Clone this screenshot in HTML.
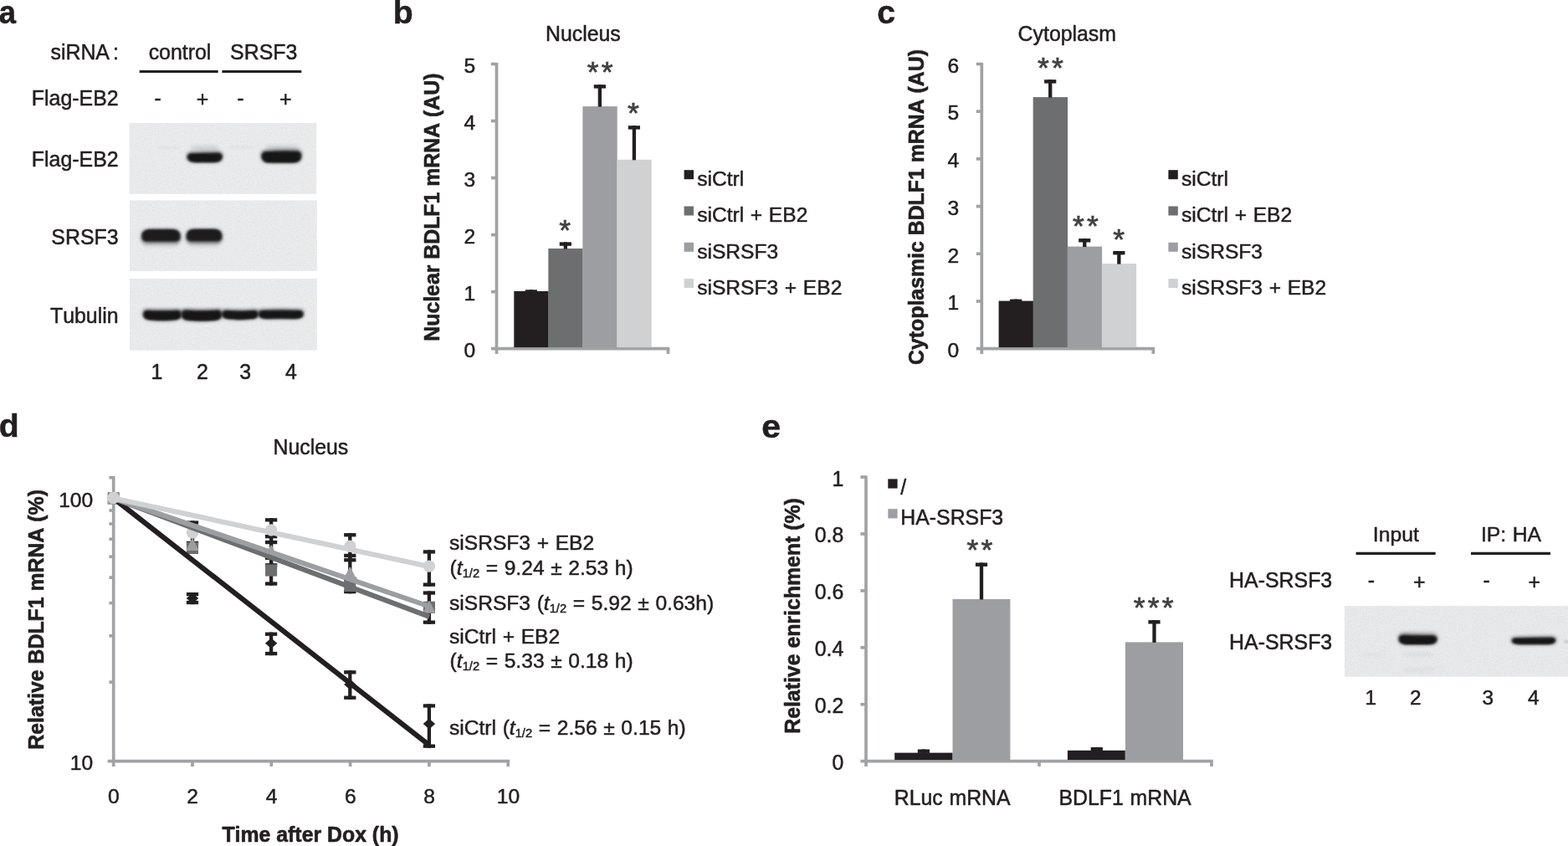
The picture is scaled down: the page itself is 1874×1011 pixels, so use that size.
<!DOCTYPE html>
<html lang="en">
<head>
<meta charset="utf-8">
<title>SRSF3 and EB2 regulate BDLF1 mRNA</title>
<style>
html,body{margin:0;padding:0;background:#fff;}
body{width:1874px;height:1011px;overflow:hidden;}
svg{display:block;font-family:"Liberation Sans",sans-serif;}
text{stroke:#231f20;stroke-width:0.5px;stroke-linejoin:round;word-spacing:0.8px;font-kerning:none;}
text.bl{stroke-width:0.6px;word-spacing:0;}
text.st{stroke:#414042;stroke-width:0.7px;stroke-linejoin:miter;}
</style>
</head>
<body>
<svg width="1874" height="1011" viewBox="0 0 1874 1011">
<defs>
<filter id="b1_4" x="-20%" y="-60%" width="140%" height="220%"><feGaussianBlur stdDeviation="1.4"/></filter>
<filter id="b1_6" x="-20%" y="-60%" width="140%" height="220%"><feGaussianBlur stdDeviation="1.6"/></filter>
<filter id="b2_0" x="-20%" y="-60%" width="140%" height="220%"><feGaussianBlur stdDeviation="2.0"/></filter>
<filter id="b1_8" x="-20%" y="-60%" width="140%" height="220%"><feGaussianBlur stdDeviation="1.8"/></filter>
<filter id="grain" x="0" y="0" width="100%" height="100%">
<feTurbulence type="fractalNoise" baseFrequency="0.55" numOctaves="2" seed="7" result="n"/>
<feColorMatrix in="n" type="matrix" values="0 0 0 0 0  0 0 0 0 0  0 0 0 0 0  0.09 0.09 0.09 0 -0.11" result="a"/>
<feComposite in="a" in2="SourceGraphic" operator="in" result="g"/>
<feMerge><feMergeNode in="SourceGraphic"/><feMergeNode in="g"/></feMerge>
</filter>
</defs>
<rect width="1874" height="1011" fill="#ffffff"/>
<text transform="translate(-1.2 28.0) scale(0.93 1)" font-size="39.2" font-weight="bold" fill="#231f20">a</text>
<text x="469.80" y="28.00" font-size="39.2" text-anchor="start" font-weight="bold" fill="#231f20">b</text>
<text x="1048.30" y="28.00" font-size="39.2" text-anchor="start" font-weight="bold" fill="#231f20">c</text>
<text x="-1.20" y="522.20" font-size="39.2" text-anchor="start" font-weight="bold" fill="#231f20">d</text>
<text transform="translate(910.2 522.6) scale(1.05 1)" font-size="39.2" font-weight="bold" fill="#231f20">e</text>
<g id="panel-a">
<text x="141.90" y="70.50" font-size="24.9" text-anchor="end" font-weight="normal" fill="#231f20">siRNA<tspan dx="4">:</tspan></text>
<text x="215.00" y="70.50" font-size="24.9" text-anchor="middle" font-weight="normal" fill="#231f20">control</text>
<text x="315.20" y="70.50" font-size="24.9" text-anchor="middle" font-weight="normal" fill="#231f20">SRSF3</text>
<line x1="166.70" y1="85.50" x2="260.70" y2="85.50" stroke="#231f20" stroke-width="3"/>
<line x1="265.40" y1="85.50" x2="360.30" y2="85.50" stroke="#231f20" stroke-width="3"/>
<text x="141.60" y="126.00" font-size="24.9" text-anchor="end" font-weight="normal" fill="#231f20">Flag-EB2</text>
<text x="188.70" y="126.00" font-size="24.9" text-anchor="middle" font-weight="normal" fill="#231f20">-</text>
<text x="242.00" y="127.40" font-size="24.9" text-anchor="middle" font-weight="normal" fill="#231f20">+</text>
<text x="287.40" y="126.00" font-size="24.9" text-anchor="middle" font-weight="normal" fill="#231f20">-</text>
<text x="341.30" y="127.40" font-size="24.9" text-anchor="middle" font-weight="normal" fill="#231f20">+</text>
<text x="141.60" y="198.70" font-size="24.9" text-anchor="end" font-weight="normal" fill="#231f20">Flag-EB2</text>
<text x="141.60" y="292.30" font-size="24.9" text-anchor="end" font-weight="normal" fill="#231f20">SRSF3</text>
<text x="141.60" y="385.90" font-size="24.9" text-anchor="end" font-weight="normal" fill="#231f20">Tubulin</text>
<rect x="154.60" y="147.00" width="223.60" height="84.80" fill="#ebecee" filter="url(#grain)"/>
<rect x="155.00" y="239.50" width="223.80" height="84.40" fill="#ebecee" filter="url(#grain)"/>
<rect x="155.00" y="333.00" width="223.80" height="85.60" fill="#ebecee" filter="url(#grain)"/>
<rect x="228.50" y="174.60" width="32.00" height="4.90" rx="3" fill="#303030" opacity="0.16" filter="url(#b2_0)"/>
<rect x="318.00" y="173.50" width="38.00" height="5.00" rx="3" fill="#303030" opacity="0.14" filter="url(#b2_0)"/>
<rect x="187.00" y="175.20" width="29.00" height="2.20" rx="3" fill="#303030" opacity="0.06" filter="url(#b1_4)"/>
<rect x="273.00" y="174.60" width="30.00" height="2.20" rx="3" fill="#303030" opacity="0.06" filter="url(#b1_4)"/>
<path d="M223.60 186.94 Q223.60 182.30 228.60 182.30 Q244.75 181.50 260.90 181.50 Q265.90 181.50 265.90 186.62 Q265.90 193.70 255.90 193.70 Q244.75 193.70 233.60 193.70 Q223.60 193.70 223.60 186.94Z" fill="#343434" opacity="1" filter="url(#b2_0)"/>
<path d="M223.60 186.94 Q223.60 182.30 228.60 182.30 Q244.75 181.50 260.90 181.50 Q265.90 181.50 265.90 186.62 Q265.90 193.70 255.90 193.70 Q244.75 193.70 233.60 193.70 Q223.60 193.70 223.60 186.94Z" fill="#141414" opacity="1" transform="translate(244.75 193.70) scale(0.97 0.84) translate(-244.75 -193.70)" filter="url(#b1_4)"/>
<path d="M312.30 185.84 Q312.30 179.90 317.30 179.90 Q336.35 178.30 355.40 179.30 Q360.40 179.30 360.40 185.60 Q360.40 194.30 350.40 194.30 Q336.35 194.30 322.30 194.30 Q312.30 194.30 312.30 185.84Z" fill="#343434" opacity="1" filter="url(#b2_0)"/>
<path d="M312.30 185.84 Q312.30 179.90 317.30 179.90 Q336.35 178.30 355.40 179.30 Q360.40 179.30 360.40 185.60 Q360.40 194.30 350.40 194.30 Q336.35 194.30 322.30 194.30 Q312.30 194.30 312.30 185.84Z" fill="#141414" opacity="1" transform="translate(336.35 194.30) scale(0.97 0.84) translate(-336.35 -194.30)" filter="url(#b1_4)"/>
<rect x="172.00" y="288.00" width="41.00" height="7.00" rx="3" fill="#303030" opacity="0.13" filter="url(#b2_0)"/>
<rect x="226.00" y="288.00" width="36.00" height="7.00" rx="3" fill="#303030" opacity="0.13" filter="url(#b2_0)"/>
<g transform="translate(0 564.40) scale(1 -1)">
<path d="M169.10 280.94 Q169.10 274.30 174.10 274.30 Q192.40 274.30 210.70 274.30 Q215.70 274.30 215.70 280.94 Q215.70 290.10 205.70 290.10 Q192.40 290.10 179.10 290.10 Q169.10 290.10 169.10 280.94Z" fill="#3a3a3a" opacity="1" filter="url(#b2_0)"/>
<path d="M169.10 280.94 Q169.10 274.30 174.10 274.30 Q192.40 274.30 210.70 274.30 Q215.70 274.30 215.70 280.94 Q215.70 290.10 205.70 290.10 Q192.40 290.10 179.10 290.10 Q169.10 290.10 169.10 280.94Z" fill="#1b1b1b" opacity="1" transform="translate(192.40 290.10) scale(0.97 0.84) translate(-192.40 -290.10)" filter="url(#b1_4)"/>
</g>
<g transform="translate(0 563.80) scale(1 -1)">
<path d="M222.50 280.62 Q222.50 273.90 227.50 273.90 Q244.00 273.90 260.50 273.90 Q265.50 273.90 265.50 280.62 Q265.50 289.90 255.50 289.90 Q244.00 289.90 232.50 289.90 Q222.50 289.90 222.50 280.62Z" fill="#3a3a3a" opacity="1" filter="url(#b2_0)"/>
<path d="M222.50 280.62 Q222.50 273.90 227.50 273.90 Q244.00 273.90 260.50 273.90 Q265.50 273.90 265.50 280.62 Q265.50 289.90 255.50 289.90 Q244.00 289.90 232.50 289.90 Q222.50 289.90 222.50 280.62Z" fill="#1b1b1b" opacity="1" transform="translate(244.00 289.90) scale(0.97 0.84) translate(-244.00 -289.90)" filter="url(#b1_4)"/>
</g>
<path d="M170.90 374.99 Q170.90 369.70 175.90 369.70 Q194.00 370.90 212.10 369.70 Q217.10 369.70 217.10 374.99 Q217.10 382.30 207.10 382.30 Q194.00 383.50 180.90 382.30 Q170.90 382.30 170.90 374.99Z" fill="#343434" opacity="1" filter="url(#b2_0)"/>
<path d="M170.90 374.99 Q170.90 369.70 175.90 369.70 Q194.00 370.90 212.10 369.70 Q217.10 369.70 217.10 374.99 Q217.10 382.30 207.10 382.30 Q194.00 383.50 180.90 382.30 Q170.90 382.30 170.90 374.99Z" fill="#141414" opacity="1" transform="translate(194.00 382.30) scale(0.97 0.84) translate(-194.00 -382.30)" filter="url(#b1_4)"/>
<path d="M216.50 375.04 Q216.50 369.50 221.50 369.50 Q241.00 371.10 260.50 369.50 Q265.50 369.50 265.50 375.04 Q265.50 382.70 255.50 382.70 Q241.00 384.30 226.50 382.70 Q216.50 382.70 216.50 375.04Z" fill="#343434" opacity="1" filter="url(#b2_0)"/>
<path d="M216.50 375.04 Q216.50 369.50 221.50 369.50 Q241.00 371.10 260.50 369.50 Q265.50 369.50 265.50 375.04 Q265.50 382.70 255.50 382.70 Q241.00 384.30 226.50 382.70 Q216.50 382.70 216.50 375.04Z" fill="#141414" opacity="1" transform="translate(241.00 382.70) scale(0.97 0.84) translate(-241.00 -382.70)" filter="url(#b1_4)"/>
<path d="M265.00 374.72 Q265.00 370.10 270.00 370.10 Q287.05 371.50 304.10 370.10 Q309.10 370.10 309.10 374.72 Q309.10 381.10 299.10 381.10 Q287.05 382.50 275.00 381.10 Q265.00 381.10 265.00 374.72Z" fill="#343434" opacity="1" filter="url(#b2_0)"/>
<path d="M265.00 374.72 Q265.00 370.10 270.00 370.10 Q287.05 371.50 304.10 370.10 Q309.10 370.10 309.10 374.72 Q309.10 381.10 299.10 381.10 Q287.05 382.50 275.00 381.10 Q265.00 381.10 265.00 374.72Z" fill="#141414" opacity="1" transform="translate(287.05 381.10) scale(0.97 0.84) translate(-287.05 -381.10)" filter="url(#b1_4)"/>
<path d="M308.50 374.44 Q308.50 369.90 313.50 369.90 Q335.70 369.30 357.90 369.90 Q362.90 369.90 362.90 374.44 Q362.90 380.70 352.90 380.70 Q335.70 380.10 318.50 380.70 Q308.50 380.70 308.50 374.44Z" fill="#343434" opacity="1" filter="url(#b2_0)"/>
<path d="M308.50 374.44 Q308.50 369.90 313.50 369.90 Q335.70 369.30 357.90 369.90 Q362.90 369.90 362.90 374.44 Q362.90 380.70 352.90 380.70 Q335.70 380.10 318.50 380.70 Q308.50 380.70 308.50 374.44Z" fill="#141414" opacity="1" transform="translate(335.70 380.70) scale(0.97 0.84) translate(-335.70 -380.70)" filter="url(#b1_4)"/>
<text x="187.30" y="452.60" font-size="24.9" text-anchor="middle" font-weight="normal" fill="#231f20">1</text>
<text x="241.90" y="452.60" font-size="24.9" text-anchor="middle" font-weight="normal" fill="#231f20">2</text>
<text x="293.20" y="452.60" font-size="24.9" text-anchor="middle" font-weight="normal" fill="#231f20">3</text>
<text x="348.00" y="452.60" font-size="24.9" text-anchor="middle" font-weight="normal" fill="#231f20">4</text>
</g>
<g id="panel-b">
<line x1="593.50" y1="74.90" x2="593.50" y2="422.90" stroke="#a1a2a5" stroke-width="3.7"/>
<line x1="586.90" y1="416.70" x2="800.30" y2="416.70" stroke="#a1a2a5" stroke-width="3.7"/>
<line x1="798.50" y1="416.70" x2="798.50" y2="422.90" stroke="#a1a2a5" stroke-width="3.7"/>
<text x="568.10" y="426.90" font-size="24.6" text-anchor="end" font-weight="normal" fill="#231f20">0</text>
<line x1="586.90" y1="348.66" x2="593.50" y2="348.66" stroke="#a1a2a5" stroke-width="3.7"/>
<text x="568.10" y="358.86" font-size="24.6" text-anchor="end" font-weight="normal" fill="#231f20">1</text>
<line x1="586.90" y1="280.62" x2="593.50" y2="280.62" stroke="#a1a2a5" stroke-width="3.7"/>
<text x="568.10" y="290.82" font-size="24.6" text-anchor="end" font-weight="normal" fill="#231f20">2</text>
<line x1="586.90" y1="212.58" x2="593.50" y2="212.58" stroke="#a1a2a5" stroke-width="3.7"/>
<text x="568.10" y="222.78" font-size="24.6" text-anchor="end" font-weight="normal" fill="#231f20">3</text>
<line x1="586.90" y1="144.54" x2="593.50" y2="144.54" stroke="#a1a2a5" stroke-width="3.7"/>
<text x="568.10" y="154.74" font-size="24.6" text-anchor="end" font-weight="normal" fill="#231f20">4</text>
<line x1="586.90" y1="76.50" x2="593.50" y2="76.50" stroke="#a1a2a5" stroke-width="3.7"/>
<text x="568.10" y="86.70" font-size="24.6" text-anchor="end" font-weight="normal" fill="#231f20">5</text>
<rect x="614.30" y="348.00" width="41.33" height="67.10" fill="#231f20"/>
<rect x="655.33" y="297.00" width="41.33" height="118.10" fill="#6d6e70"/>
<rect x="696.36" y="127.10" width="41.33" height="288.00" fill="#9d9ea1"/>
<rect x="737.39" y="190.80" width="41.33" height="224.30" fill="#d0d1d3"/>
<line x1="634.81" y1="346.30" x2="634.81" y2="348.50" stroke="#231f20" stroke-width="4.3"/>
<rect x="627.71" y="346.30" width="14.20" height="4.40" fill="#231f20"/>
<line x1="675.84" y1="289.40" x2="675.84" y2="297.50" stroke="#231f20" stroke-width="4.3"/>
<rect x="668.74" y="289.40" width="14.20" height="4.40" fill="#231f20"/>
<text class="st" x="675.15" y="286.50" font-size="35.5" text-anchor="middle" fill="#414042">*</text>
<line x1="716.87" y1="101.20" x2="716.87" y2="127.60" stroke="#231f20" stroke-width="4.3"/>
<rect x="709.77" y="101.20" width="14.20" height="4.40" fill="#231f20"/>
<text class="st" x="708.75 725.75" y="97.80" font-size="35.5" text-anchor="middle" fill="#414042">**</text>
<line x1="757.90" y1="150.20" x2="757.90" y2="191.30" stroke="#231f20" stroke-width="4.3"/>
<rect x="750.80" y="150.20" width="14.20" height="4.40" fill="#231f20"/>
<text class="st" x="756.85" y="147.00" font-size="35.5" text-anchor="middle" fill="#414042">*</text>
<text x="696.90" y="49.30" font-size="24.85" text-anchor="middle" font-weight="normal" fill="#231f20">Nucleus</text>
<text class="bl" transform="translate(525.20 247.60) rotate(-90)" font-size="24.85" font-weight="bold" text-anchor="middle" fill="#231f20">Nuclear BDLF1 mRNA (AU)</text>
<rect x="817.60" y="203.20" width="11.40" height="11.00" fill="#231f20"/>
<text x="833.20" y="222.10" font-size="24.6" text-anchor="start" font-weight="normal" fill="#231f20">siCtrl</text>
<rect x="817.60" y="246.50" width="11.40" height="11.00" fill="#6d6e70"/>
<text x="833.20" y="265.40" font-size="24.6" text-anchor="start" font-weight="normal" fill="#231f20">siCtrl + EB2</text>
<rect x="817.60" y="289.80" width="11.40" height="11.00" fill="#9d9ea1"/>
<text x="833.20" y="308.70" font-size="24.6" text-anchor="start" font-weight="normal" fill="#231f20">siSRSF3</text>
<rect x="817.60" y="333.10" width="11.40" height="11.00" fill="#d0d1d3"/>
<text x="833.20" y="352.00" font-size="24.6" text-anchor="start" font-weight="normal" fill="#231f20">siSRSF3 + EB2</text>
</g>
<g id="panel-c">
<line x1="1173.30" y1="74.90" x2="1173.30" y2="422.90" stroke="#a1a2a5" stroke-width="3.7"/>
<line x1="1166.70" y1="416.70" x2="1380.10" y2="416.70" stroke="#a1a2a5" stroke-width="3.7"/>
<line x1="1378.30" y1="416.70" x2="1378.30" y2="422.90" stroke="#a1a2a5" stroke-width="3.7"/>
<text x="1146.30" y="426.90" font-size="24.6" text-anchor="end" font-weight="normal" fill="#231f20">0</text>
<line x1="1166.70" y1="360.00" x2="1173.30" y2="360.00" stroke="#a1a2a5" stroke-width="3.7"/>
<text x="1146.30" y="370.20" font-size="24.6" text-anchor="end" font-weight="normal" fill="#231f20">1</text>
<line x1="1166.70" y1="303.30" x2="1173.30" y2="303.30" stroke="#a1a2a5" stroke-width="3.7"/>
<text x="1146.30" y="313.50" font-size="24.6" text-anchor="end" font-weight="normal" fill="#231f20">2</text>
<line x1="1166.70" y1="246.60" x2="1173.30" y2="246.60" stroke="#a1a2a5" stroke-width="3.7"/>
<text x="1146.30" y="256.80" font-size="24.6" text-anchor="end" font-weight="normal" fill="#231f20">3</text>
<line x1="1166.70" y1="189.90" x2="1173.30" y2="189.90" stroke="#a1a2a5" stroke-width="3.7"/>
<text x="1146.30" y="200.10" font-size="24.6" text-anchor="end" font-weight="normal" fill="#231f20">4</text>
<line x1="1166.70" y1="133.20" x2="1173.30" y2="133.20" stroke="#a1a2a5" stroke-width="3.7"/>
<text x="1146.30" y="143.40" font-size="24.6" text-anchor="end" font-weight="normal" fill="#231f20">5</text>
<line x1="1166.70" y1="76.50" x2="1173.30" y2="76.50" stroke="#a1a2a5" stroke-width="3.7"/>
<text x="1146.30" y="86.70" font-size="24.6" text-anchor="end" font-weight="normal" fill="#231f20">6</text>
<rect x="1193.60" y="359.60" width="41.37" height="55.50" fill="#231f20"/>
<rect x="1234.67" y="116.10" width="41.37" height="299.00" fill="#6d6e70"/>
<rect x="1275.74" y="294.60" width="41.37" height="120.50" fill="#9d9ea1"/>
<rect x="1316.81" y="315.10" width="41.37" height="100.00" fill="#d0d1d3"/>
<line x1="1214.13" y1="357.60" x2="1214.13" y2="360.10" stroke="#231f20" stroke-width="4.3"/>
<rect x="1207.04" y="357.60" width="14.20" height="4.40" fill="#231f20"/>
<line x1="1255.20" y1="95.20" x2="1255.20" y2="116.60" stroke="#231f20" stroke-width="4.3"/>
<rect x="1248.11" y="95.20" width="14.20" height="4.40" fill="#231f20"/>
<text class="st" x="1246.85 1263.85" y="92.60" font-size="35.5" text-anchor="middle" fill="#414042">**</text>
<line x1="1296.28" y1="285.10" x2="1296.28" y2="295.10" stroke="#231f20" stroke-width="4.3"/>
<rect x="1289.18" y="285.10" width="14.20" height="4.40" fill="#231f20"/>
<text class="st" x="1288.90 1305.90" y="282.10" font-size="35.5" text-anchor="middle" fill="#414042">**</text>
<line x1="1337.35" y1="300.00" x2="1337.35" y2="315.60" stroke="#231f20" stroke-width="4.3"/>
<rect x="1330.25" y="300.00" width="14.20" height="4.40" fill="#231f20"/>
<text class="st" x="1337.15" y="297.90" font-size="35.5" text-anchor="middle" fill="#414042">*</text>
<text x="1275.30" y="49.30" font-size="24.85" text-anchor="middle" font-weight="normal" fill="#231f20">Cytoplasm</text>
<text class="bl" transform="translate(1103.80 247.50) rotate(-90)" font-size="24.85" font-weight="bold" text-anchor="middle" fill="#231f20">Cytoplasmic BDLF1 mRNA (AU)</text>
<rect x="1396.40" y="203.20" width="11.40" height="11.00" fill="#231f20"/>
<text x="1412.00" y="222.10" font-size="24.6" text-anchor="start" font-weight="normal" fill="#231f20">siCtrl</text>
<rect x="1396.40" y="246.50" width="11.40" height="11.00" fill="#6d6e70"/>
<text x="1412.00" y="265.40" font-size="24.6" text-anchor="start" font-weight="normal" fill="#231f20">siCtrl + EB2</text>
<rect x="1396.40" y="289.80" width="11.40" height="11.00" fill="#9d9ea1"/>
<text x="1412.00" y="308.70" font-size="24.6" text-anchor="start" font-weight="normal" fill="#231f20">siSRSF3</text>
<rect x="1396.40" y="333.10" width="11.40" height="11.00" fill="#d0d1d3"/>
<text x="1412.00" y="352.00" font-size="24.6" text-anchor="start" font-weight="normal" fill="#231f20">siSRSF3 + EB2</text>
</g>
<g id="panel-d">
<text x="371.40" y="543.40" font-size="24.85" text-anchor="middle" font-weight="normal" fill="#231f20">Nucleus</text>
<text class="bl" transform="translate(51.90 740.40) rotate(-90)" font-size="24.85" font-weight="bold" text-anchor="middle" fill="#231f20">Relative BDLF1 mRNA (%)</text>
<line x1="135.70" y1="569.03" x2="135.70" y2="916.00" stroke="#a1a2a5" stroke-width="3.7"/>
<line x1="128.70" y1="909.70" x2="609.20" y2="909.70" stroke="#a1a2a5" stroke-width="3.7"/>
<line x1="130.40" y1="570.73" x2="135.70" y2="570.73" stroke="#a1a2a5" stroke-width="3.7"/>
<line x1="130.40" y1="595.60" x2="135.70" y2="595.60" stroke="#a1a2a5" stroke-width="3.7"/>
<line x1="130.40" y1="609.97" x2="135.70" y2="609.97" stroke="#a1a2a5" stroke-width="3.7"/>
<line x1="130.40" y1="626.04" x2="135.70" y2="626.04" stroke="#a1a2a5" stroke-width="3.7"/>
<line x1="130.40" y1="644.25" x2="135.70" y2="644.25" stroke="#a1a2a5" stroke-width="3.7"/>
<line x1="130.40" y1="665.28" x2="135.70" y2="665.28" stroke="#a1a2a5" stroke-width="3.7"/>
<line x1="130.40" y1="690.15" x2="135.70" y2="690.15" stroke="#a1a2a5" stroke-width="3.7"/>
<line x1="130.40" y1="720.59" x2="135.70" y2="720.59" stroke="#a1a2a5" stroke-width="3.7"/>
<line x1="130.40" y1="759.84" x2="135.70" y2="759.84" stroke="#a1a2a5" stroke-width="3.7"/>
<line x1="130.40" y1="815.15" x2="135.70" y2="815.15" stroke="#a1a2a5" stroke-width="3.7"/>
<text x="135.90" y="960.20" font-size="24.6" text-anchor="middle" font-weight="normal" fill="#231f20">0</text>
<line x1="230.00" y1="909.70" x2="230.00" y2="916.00" stroke="#a1a2a5" stroke-width="3.7"/>
<text x="230.20" y="960.20" font-size="24.6" text-anchor="middle" font-weight="normal" fill="#231f20">2</text>
<line x1="324.30" y1="909.70" x2="324.30" y2="916.00" stroke="#a1a2a5" stroke-width="3.7"/>
<text x="324.50" y="960.20" font-size="24.6" text-anchor="middle" font-weight="normal" fill="#231f20">4</text>
<line x1="418.60" y1="909.70" x2="418.60" y2="916.00" stroke="#a1a2a5" stroke-width="3.7"/>
<text x="418.80" y="960.20" font-size="24.6" text-anchor="middle" font-weight="normal" fill="#231f20">6</text>
<line x1="512.90" y1="909.70" x2="512.90" y2="916.00" stroke="#a1a2a5" stroke-width="3.7"/>
<text x="513.10" y="960.20" font-size="24.6" text-anchor="middle" font-weight="normal" fill="#231f20">8</text>
<line x1="607.20" y1="909.70" x2="607.20" y2="916.00" stroke="#a1a2a5" stroke-width="3.7"/>
<text x="607.40" y="960.20" font-size="24.6" text-anchor="middle" font-weight="normal" fill="#231f20">10</text>
<text x="111.20" y="606.40" font-size="24.6" text-anchor="end" font-weight="normal" fill="#231f20">100</text>
<text x="111.20" y="920.00" font-size="24.6" text-anchor="end" font-weight="normal" fill="#231f20">10</text>
<text x="371.00" y="1005.70" font-size="24.85" text-anchor="middle" font-weight="bold" fill="#231f20" class="bl">Time after Dox (h)</text>
<line x1="230.00" y1="622.40" x2="230.00" y2="651.10" stroke="#231f20" stroke-width="4.3"/>
<rect x="222.85" y="622.40" width="14.30" height="4.30" fill="#231f20"/>
<rect x="222.85" y="646.80" width="14.30" height="4.30" fill="#231f20"/>
<line x1="230.00" y1="708.00" x2="230.00" y2="722.20" stroke="#231f20" stroke-width="4.3"/>
<rect x="222.85" y="708.00" width="14.30" height="4.30" fill="#231f20"/>
<rect x="222.85" y="717.90" width="14.30" height="4.30" fill="#231f20"/>
<line x1="324.10" y1="619.20" x2="324.10" y2="650.20" stroke="#231f20" stroke-width="4.3"/>
<rect x="316.95" y="619.20" width="14.30" height="4.30" fill="#231f20"/>
<rect x="316.95" y="645.90" width="14.30" height="4.30" fill="#231f20"/>
<line x1="324.10" y1="639.00" x2="324.10" y2="677.50" stroke="#231f20" stroke-width="4.3"/>
<rect x="316.95" y="639.00" width="14.30" height="4.30" fill="#231f20"/>
<rect x="316.95" y="673.20" width="14.30" height="4.30" fill="#231f20"/>
<line x1="324.10" y1="664.60" x2="324.10" y2="699.70" stroke="#231f20" stroke-width="4.3"/>
<rect x="316.95" y="664.60" width="14.30" height="4.30" fill="#231f20"/>
<rect x="316.95" y="695.40" width="14.30" height="4.30" fill="#231f20"/>
<line x1="324.10" y1="755.60" x2="324.10" y2="783.20" stroke="#231f20" stroke-width="4.3"/>
<rect x="316.95" y="755.60" width="14.30" height="4.30" fill="#231f20"/>
<rect x="316.95" y="778.90" width="14.30" height="4.30" fill="#231f20"/>
<line x1="418.30" y1="637.10" x2="418.30" y2="671.40" stroke="#231f20" stroke-width="4.3"/>
<rect x="411.15" y="637.10" width="14.30" height="4.30" fill="#231f20"/>
<rect x="411.15" y="667.10" width="14.30" height="4.30" fill="#231f20"/>
<line x1="418.30" y1="661.80" x2="418.30" y2="694.00" stroke="#231f20" stroke-width="4.3"/>
<rect x="411.15" y="661.80" width="14.30" height="4.30" fill="#231f20"/>
<rect x="411.15" y="689.70" width="14.30" height="4.30" fill="#231f20"/>
<line x1="418.30" y1="690.00" x2="418.30" y2="709.30" stroke="#231f20" stroke-width="4.3"/>
<rect x="411.15" y="690.00" width="14.30" height="4.30" fill="#231f20"/>
<rect x="411.15" y="705.00" width="14.30" height="4.30" fill="#231f20"/>
<line x1="418.30" y1="801.20" x2="418.30" y2="835.90" stroke="#231f20" stroke-width="4.3"/>
<rect x="411.15" y="801.20" width="14.30" height="4.30" fill="#231f20"/>
<rect x="411.15" y="831.60" width="14.30" height="4.30" fill="#231f20"/>
<line x1="512.90" y1="657.30" x2="512.90" y2="700.80" stroke="#231f20" stroke-width="4.3"/>
<rect x="505.75" y="657.30" width="14.30" height="4.30" fill="#231f20"/>
<rect x="505.75" y="696.50" width="14.30" height="4.30" fill="#231f20"/>
<line x1="512.90" y1="706.40" x2="512.90" y2="745.80" stroke="#231f20" stroke-width="4.3"/>
<rect x="505.75" y="706.40" width="14.30" height="4.30" fill="#231f20"/>
<rect x="505.75" y="741.50" width="14.30" height="4.30" fill="#231f20"/>
<line x1="512.90" y1="841.30" x2="512.90" y2="893.80" stroke="#231f20" stroke-width="4.3"/>
<rect x="505.75" y="841.30" width="14.30" height="4.30" fill="#231f20"/>
<rect x="505.75" y="889.50" width="14.30" height="4.30" fill="#231f20"/>
<path d="M135.70 589.10L142.90 595.40L135.70 601.70L128.50 595.40Z" fill="#231f20"/>
<path d="M230.00 708.80L237.20 715.10L230.00 721.40L222.80 715.10Z" fill="#231f20"/>
<path d="M324.10 762.40L331.30 768.70L324.10 775.00L316.90 768.70Z" fill="#231f20"/>
<path d="M418.30 811.60L425.50 817.90L418.30 824.20L411.10 817.90Z" fill="#231f20"/>
<path d="M512.90 858.80L520.10 865.10L512.90 871.40L505.70 865.10Z" fill="#231f20"/>
<rect x="128.65" y="588.30" width="14.10" height="14.20" fill="#6d6e70"/>
<rect x="222.95" y="647.85" width="14.10" height="14.20" fill="#6d6e70"/>
<rect x="317.05" y="674.40" width="14.10" height="14.20" fill="#6d6e70"/>
<rect x="411.25" y="692.90" width="14.10" height="14.20" fill="#6d6e70"/>
<rect x="505.85" y="718.70" width="14.10" height="14.20" fill="#6d6e70"/>
<path d="M135.70 589.10L142.10 601.90L129.30 601.90Z" fill="#9d9ea1" stroke="#9d9ea1" stroke-width="1.5" stroke-linejoin="round"/>
<path d="M230.00 644.40L236.40 657.20L223.60 657.20Z" fill="#9d9ea1" stroke="#9d9ea1" stroke-width="1.5" stroke-linejoin="round"/>
<path d="M324.10 652.10L330.50 664.90L317.70 664.90Z" fill="#9d9ea1" stroke="#9d9ea1" stroke-width="1.5" stroke-linejoin="round"/>
<path d="M418.30 678.40L424.70 691.20L411.90 691.20Z" fill="#9d9ea1" stroke="#9d9ea1" stroke-width="1.5" stroke-linejoin="round"/>
<path d="M512.90 718.90L519.30 731.70L506.50 731.70Z" fill="#9d9ea1" stroke="#9d9ea1" stroke-width="1.5" stroke-linejoin="round"/>
<circle cx="135.70" cy="594.90" r="7.2" fill="#d0d1d3"/>
<circle cx="230.00" cy="636.60" r="7.2" fill="#d0d1d3"/>
<circle cx="324.10" cy="633.50" r="7.2" fill="#d0d1d3"/>
<circle cx="418.30" cy="652.80" r="7.2" fill="#d0d1d3"/>
<circle cx="512.90" cy="676.60" r="7.2" fill="#d0d1d3"/>
<line x1="135.70" y1="595.50" x2="513.20" y2="890.53" stroke="#231f20" stroke-width="6.1"/>
<line x1="135.70" y1="595.50" x2="513.20" y2="736.91" stroke="#6d6e70" stroke-width="6.1"/>
<line x1="135.70" y1="595.50" x2="513.20" y2="724.70" stroke="#9d9ea1" stroke-width="6.1"/>
<line x1="135.70" y1="595.50" x2="513.20" y2="677.06" stroke="#d0d1d3" stroke-width="6.1"/>
<circle cx="135.70" cy="594.90" r="7.2" fill="#d0d1d3"/>
<text x="537.00" y="657.40" font-size="24.6" text-anchor="start" font-weight="normal" fill="#231f20">siSRSF3 + EB2</text>
<text x="537.60" y="686.70" font-size="24.6" text-anchor="start" font-weight="normal" fill="#231f20">(<tspan font-style="italic">t</tspan><tspan font-size="14.7" dy="2.9">1/2</tspan><tspan dy="-2.9"> = 9.24 ± 2.53 h)</tspan></text>
<text x="537.00" y="729.00" font-size="24.6" text-anchor="start" font-weight="normal" fill="#231f20">siSRSF3 (<tspan font-style="italic">t</tspan><tspan font-size="14.7" dy="2.9">1/2</tspan><tspan dy="-2.9"> = 5.92 ± 0.63h)</tspan></text>
<text x="537.00" y="768.90" font-size="24.6" text-anchor="start" font-weight="normal" fill="#231f20">siCtrl + EB2</text>
<text x="537.60" y="798.40" font-size="24.6" text-anchor="start" font-weight="normal" fill="#231f20">(<tspan font-style="italic">t</tspan><tspan font-size="14.7" dy="2.9">1/2</tspan><tspan dy="-2.9"> = 5.33 ± 0.18 h)</tspan></text>
<text x="537.00" y="878.30" font-size="24.6" text-anchor="start" font-weight="normal" fill="#231f20">siCtrl (<tspan font-style="italic">t</tspan><tspan font-size="14.7" dy="2.9">1/2</tspan><tspan dy="-2.9"> = 2.56 ± 0.15 h)</tspan></text>
</g>
<g id="panel-e">
<line x1="1035.00" y1="568.50" x2="1035.00" y2="915.90" stroke="#a1a2a5" stroke-width="3.7"/>
<line x1="1028.40" y1="909.70" x2="1449.80" y2="909.70" stroke="#a1a2a5" stroke-width="3.7"/>
<line x1="1242.00" y1="909.70" x2="1242.00" y2="915.90" stroke="#a1a2a5" stroke-width="3.7"/>
<line x1="1448.00" y1="909.70" x2="1448.00" y2="915.90" stroke="#a1a2a5" stroke-width="3.7"/>
<text x="1008.30" y="920.10" font-size="24.85" text-anchor="end" font-weight="normal" fill="#231f20">0</text>
<line x1="1028.40" y1="841.78" x2="1035.00" y2="841.78" stroke="#a1a2a5" stroke-width="3.7"/>
<text x="1008.30" y="852.18" font-size="24.85" text-anchor="end" font-weight="normal" fill="#231f20">0.2</text>
<line x1="1028.40" y1="773.86" x2="1035.00" y2="773.86" stroke="#a1a2a5" stroke-width="3.7"/>
<text x="1008.30" y="784.26" font-size="24.85" text-anchor="end" font-weight="normal" fill="#231f20">0.4</text>
<line x1="1028.40" y1="705.94" x2="1035.00" y2="705.94" stroke="#a1a2a5" stroke-width="3.7"/>
<text x="1008.30" y="716.34" font-size="24.85" text-anchor="end" font-weight="normal" fill="#231f20">0.6</text>
<line x1="1028.40" y1="638.02" x2="1035.00" y2="638.02" stroke="#a1a2a5" stroke-width="3.7"/>
<text x="1008.30" y="648.42" font-size="24.85" text-anchor="end" font-weight="normal" fill="#231f20">0.8</text>
<line x1="1028.40" y1="570.10" x2="1035.00" y2="570.10" stroke="#a1a2a5" stroke-width="3.7"/>
<text x="1008.30" y="580.50" font-size="24.85" text-anchor="end" font-weight="normal" fill="#231f20">1</text>
<text class="bl" transform="translate(956.00 736.00) rotate(-90)" font-size="24.85" font-weight="bold" text-anchor="middle" fill="#231f20">Relative enrichment (%)</text>
<rect x="1069.20" y="899.60" width="69.40" height="8.50" fill="#231f20"/>
<line x1="1103.90" y1="895.50" x2="1103.90" y2="900.10" stroke="#231f20" stroke-width="4.3"/>
<rect x="1096.80" y="895.50" width="14.20" height="4.40" fill="#231f20"/>
<rect x="1138.50" y="716.00" width="68.90" height="192.10" fill="#9d9ea1"/>
<line x1="1173.00" y1="672.50" x2="1173.00" y2="716.50" stroke="#231f20" stroke-width="4.3"/>
<rect x="1165.90" y="672.50" width="14.20" height="4.40" fill="#231f20"/>
<text class="st" x="1162.40 1179.40" y="668.50" font-size="35.5" text-anchor="middle" fill="#414042">**</text>
<rect x="1275.90" y="896.80" width="68.90" height="11.30" fill="#231f20"/>
<line x1="1310.80" y1="893.00" x2="1310.80" y2="897.30" stroke="#231f20" stroke-width="4.3"/>
<rect x="1303.70" y="893.00" width="14.20" height="4.40" fill="#231f20"/>
<rect x="1344.90" y="767.40" width="69.10" height="140.70" fill="#9d9ea1"/>
<line x1="1379.50" y1="741.10" x2="1379.50" y2="767.90" stroke="#231f20" stroke-width="4.3"/>
<rect x="1372.40" y="741.10" width="14.20" height="4.40" fill="#231f20"/>
<text class="st" x="1361.70 1378.70 1395.70" y="737.90" font-size="35.5" text-anchor="middle" fill="#414042">***</text>
<text x="1138.20" y="961.50" font-size="24.85" text-anchor="middle" font-weight="normal" fill="#231f20">RLuc mRNA</text>
<text x="1344.60" y="961.50" font-size="24.85" text-anchor="middle" font-weight="normal" fill="#231f20">BDLF1 mRNA</text>
<rect x="1061.30" y="572.40" width="11.30" height="11.20" fill="#231f20"/>
<text x="1076.30" y="590.60" font-size="24.85" text-anchor="start" font-weight="normal" fill="#231f20">/</text>
<rect x="1061.30" y="608.20" width="11.30" height="11.20" fill="#9d9ea1"/>
<text x="1076.30" y="626.60" font-size="24.85" text-anchor="start" font-weight="normal" fill="#231f20">HA-SRSF3</text>
<text x="1668.30" y="647.20" font-size="24.7" text-anchor="middle" font-weight="normal" fill="#231f20">Input</text>
<text x="1806.00" y="647.20" font-size="24.7" text-anchor="middle" font-weight="normal" fill="#231f20">IP: HA</text>
<line x1="1620.60" y1="661.40" x2="1715.70" y2="661.40" stroke="#231f20" stroke-width="3.2"/>
<line x1="1758.00" y1="661.40" x2="1853.00" y2="661.40" stroke="#231f20" stroke-width="3.2"/>
<text x="1592.20" y="702.40" font-size="24.9" text-anchor="end" font-weight="normal" fill="#231f20">HA-SRSF3</text>
<text x="1592.20" y="776.20" font-size="24.9" text-anchor="end" font-weight="normal" fill="#231f20">HA-SRSF3</text>
<text x="1639.00" y="702.40" font-size="24.9" text-anchor="middle" font-weight="normal" fill="#231f20">-</text>
<text x="1696.30" y="703.80" font-size="24.9" text-anchor="middle" font-weight="normal" fill="#231f20">+</text>
<text x="1776.60" y="702.40" font-size="24.9" text-anchor="middle" font-weight="normal" fill="#231f20">-</text>
<text x="1833.80" y="703.80" font-size="24.9" text-anchor="middle" font-weight="normal" fill="#231f20">+</text>
<rect x="1606.90" y="724.10" width="267.10" height="84.60" fill="#e9eaec" filter="url(#grain)"/>
<rect x="1676.00" y="754.50" width="40.00" height="5.00" rx="3" fill="#303030" opacity="0.1" filter="url(#b2_0)"/>
<rect x="1676.00" y="780.50" width="36.00" height="3.50" rx="3" fill="#303030" opacity="0.07" filter="url(#b2_0)"/>
<rect x="1678.00" y="798.50" width="36.00" height="4.00" rx="3" fill="#303030" opacity="0.06" filter="url(#b2_0)"/>
<rect x="1625.00" y="781.00" width="30.00" height="3.50" rx="3" fill="#303030" opacity="0.04" filter="url(#b2_0)"/>
<rect x="1869.00" y="765.50" width="7.00" height="2.50" rx="3" fill="#303030" opacity="0.25" filter="url(#b1_4)"/>
<path d="M1671.50 762.97 Q1671.50 757.70 1676.50 757.70 Q1694.60 758.50 1712.70 758.50 Q1717.70 758.50 1717.70 763.29 Q1717.70 769.90 1707.70 769.90 Q1694.60 769.90 1681.50 769.90 Q1671.50 769.90 1671.50 762.97Z" fill="#343434" opacity="1" filter="url(#b2_0)"/>
<path d="M1671.50 762.97 Q1671.50 757.70 1676.50 757.70 Q1694.60 758.50 1712.70 758.50 Q1717.70 758.50 1717.70 763.29 Q1717.70 769.90 1707.70 769.90 Q1694.60 769.90 1681.50 769.90 Q1671.50 769.90 1671.50 762.97Z" fill="#141414" opacity="1" transform="translate(1694.60 769.90) scale(0.97 0.84) translate(-1694.60 -769.90)" filter="url(#b1_4)"/>
<path d="M1806.50 764.95 Q1806.50 761.70 1811.50 761.70 Q1833.00 761.10 1854.50 761.10 Q1859.50 761.10 1859.50 764.71 Q1859.50 769.70 1849.50 769.70 Q1833.00 769.70 1816.50 769.70 Q1806.50 769.70 1806.50 764.95Z" fill="#343434" opacity="1" filter="url(#b2_0)"/>
<path d="M1806.50 764.95 Q1806.50 761.70 1811.50 761.70 Q1833.00 761.10 1854.50 761.10 Q1859.50 761.10 1859.50 764.71 Q1859.50 769.70 1849.50 769.70 Q1833.00 769.70 1816.50 769.70 Q1806.50 769.70 1806.50 764.95Z" fill="#141414" opacity="1" transform="translate(1833.00 769.70) scale(0.97 0.84) translate(-1833.00 -769.70)" filter="url(#b1_4)"/>
<text x="1638.20" y="841.60" font-size="24.4" text-anchor="middle" font-weight="normal" fill="#231f20">1</text>
<text x="1691.90" y="841.60" font-size="24.4" text-anchor="middle" font-weight="normal" fill="#231f20">2</text>
<text x="1778.40" y="841.60" font-size="24.4" text-anchor="middle" font-weight="normal" fill="#231f20">3</text>
<text x="1832.80" y="841.60" font-size="24.4" text-anchor="middle" font-weight="normal" fill="#231f20">4</text>
</g>
</svg>
</body>
</html>
